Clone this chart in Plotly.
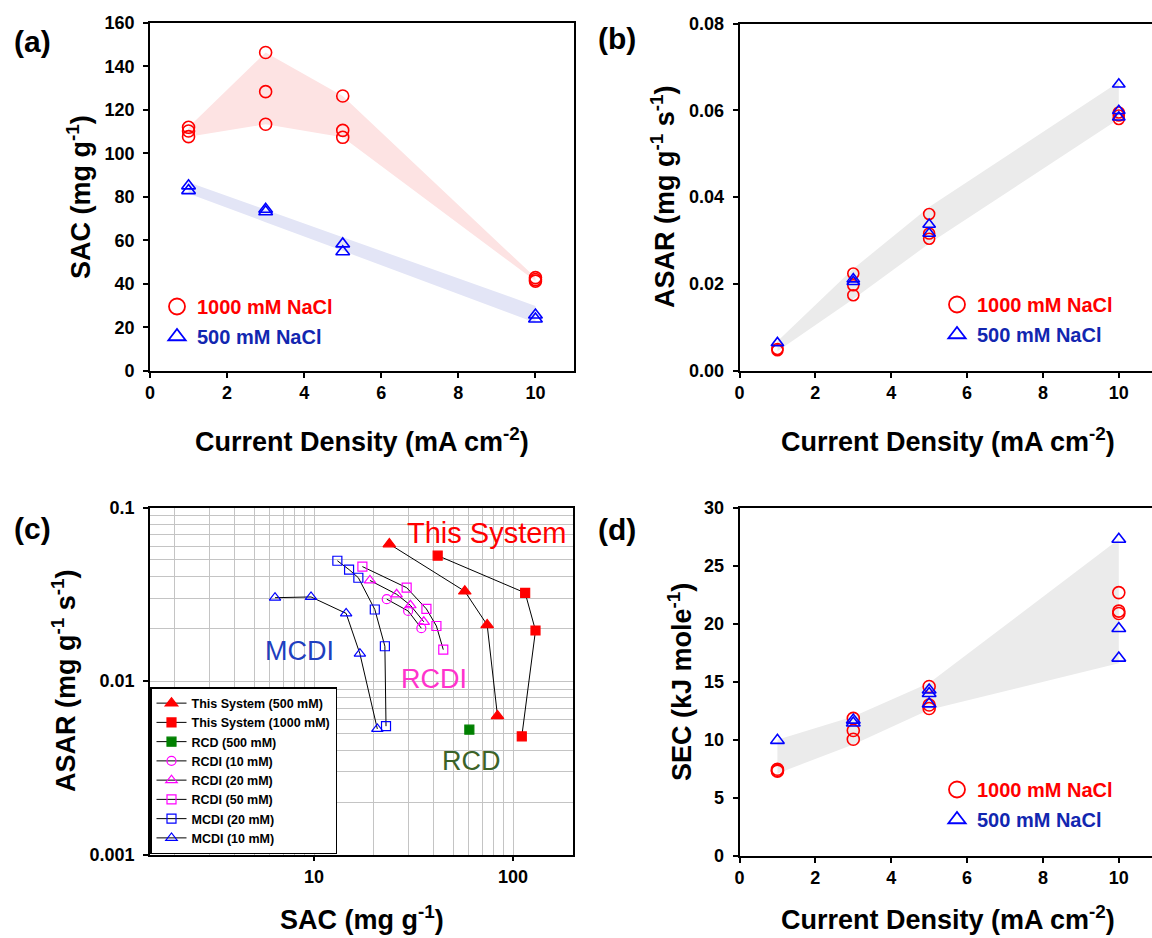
import plotly.graph_objects as go

W, H = 1152, 938
FONT = "Arial, Liberation Sans, Helvetica, sans-serif"

# ---------------- data ----------------
cd_levels = [1, 3, 5, 10]

# (a) SAC
a_x_1000 = [1, 1, 1, 3, 3, 3, 5, 5, 5, 10, 10, 10]
a_sac_1000 = [111.9, 110.2, 107.6, 146.3, 128.3, 113.3, 126.3, 110.5, 107.3, 42.8, 41.9, 41.2]
a_x_500 = [1, 1, 3, 3, 5, 5, 10, 10]
a_sac_500 = [85.0, 82.8, 74.2, 73.1, 58.3, 54.7, 25.6, 23.8]
a_band_1000_hi = [111.9, 146.3, 126.3, 42.8]
a_band_1000_lo = [107.6, 113.3, 107.3, 41.2]
a_band_500_hi = [86.6, 74.0, 61.4, 29.8]
a_band_500_lo = [81.5, 68.3, 55.1, 22.1]

# (b) ASAR
b_x_1000 = [1, 1, 3, 3, 3, 5, 5, 5, 10, 10, 10]
b_asar_1000 = [0.0050, 0.0047, 0.0224, 0.0197, 0.0174, 0.0361, 0.0316, 0.0304, 0.0595, 0.0588, 0.0580]
b_x_500 = [1, 3, 3, 5, 5, 10, 10, 10]
b_asar_500 = [0.0064, 0.0211, 0.0205, 0.0337, 0.0316, 0.0660, 0.0599, 0.0584]
b_band_hi = [0.0068, 0.0235, 0.0377, 0.0665]
b_band_lo = [0.0045, 0.0165, 0.0293, 0.0580]

# (c) Ragone-type plot
ts500_sac = [23.9, 57.2, 74.1, 83.5]
ts500_asar = [0.0618, 0.0330, 0.0211, 0.0063]
ts1000_sac = [41.8, 115.0, 129.6, 110.6]
ts1000_asar = [0.0530, 0.0323, 0.0196, 0.0048]
rcd500_sac = [60.3]
rcd500_asar = [0.00525]
rcdi10_sac = [23.2, 29.7, 34.6]
rcdi10_asar = [0.0297, 0.0254, 0.0202]
rcdi20_sac = [19.1, 26.0, 30.5, 35.6]
rcdi20_asar = [0.0381, 0.0317, 0.0274, 0.0220]
rcdi50_sac = [17.5, 29.2, 36.7, 41.2, 44.6]
rcdi50_asar = [0.0458, 0.0346, 0.0261, 0.0208, 0.0152]
mcdi20_sac = [13.1, 15.0, 16.7, 20.2, 22.7, 23.0]
mcdi20_asar = [0.0495, 0.0440, 0.0395, 0.0259, 0.0159, 0.0055]
mcdi10_sac = [6.37, 9.66, 14.5, 17.0, 20.8]
mcdi10_asar = [0.0303, 0.0306, 0.0246, 0.0144, 0.0053]

# (d) SEC
d_x_1000 = [1, 1, 1, 3, 3, 3, 5, 5, 5, 10, 10, 10]
d_sec_1000 = [7.46, 7.35, 7.30, 11.85, 10.8, 10.05, 14.6, 13.0, 12.7, 22.7, 21.1, 20.9]
d_x_500 = [1, 3, 3, 5, 5, 5, 10, 10, 10]
d_sec_500 = [9.95, 11.7, 11.45, 14.3, 14.0, 13.1, 27.3, 19.6, 17.05]
d_band_hi = [10.0, 12.0, 14.9, 27.3]
d_band_lo = [7.1, 9.6, 12.6, 16.6]

RED = "#ff0000"
BLUE = "#0000ff"
MAG = "#ff00ff"
GREEN = "#008000"


def px(x):
    return x / W


def py(y):
    return 1 - y / H


fig = go.Figure()


def band(xa, ya, hi, lo, color):
    fig.add_trace(go.Scatter(
        x=list(cd_levels) + list(cd_levels)[::-1],
        y=list(hi) + list(lo)[::-1],
        fill="toself", fillcolor=color, mode="none",
        hoverinfo="skip", showlegend=False, xaxis=xa, yaxis=ya))


# ---------------- panel (a) ----------------
band("x", "y", a_band_1000_hi, a_band_1000_lo, "#fde3e3")
band("x", "y", a_band_500_hi, a_band_500_lo, "#e3e5f6")
fig.add_trace(go.Scatter(x=a_x_1000, y=a_sac_1000, mode="markers", showlegend=False,
                         marker=dict(symbol="circle-open", size=12, color=RED, line=dict(width=1.6)),
                         xaxis="x", yaxis="y"))
fig.add_trace(go.Scatter(x=a_x_500, y=a_sac_500, mode="markers", showlegend=False,
                         marker=dict(symbol="triangle-up-open", size=12, color=BLUE, line=dict(width=1.6)),
                         xaxis="x", yaxis="y"))

# ---------------- panel (b) ----------------
band("x2", "y2", b_band_hi, b_band_lo, "#ebebeb")
fig.add_trace(go.Scatter(x=b_x_1000, y=b_asar_1000, mode="markers", showlegend=False,
                         marker=dict(symbol="circle-open", size=11, color=RED, line=dict(width=1.6)),
                         xaxis="x2", yaxis="y2"))
fig.add_trace(go.Scatter(x=b_x_500, y=b_asar_500, mode="markers", showlegend=False,
                         marker=dict(symbol="triangle-up-open", size=11, color=BLUE, line=dict(width=1.6)),
                         xaxis="x2", yaxis="y2"))

# ---------------- panel (d) ----------------
band("x4", "y4", d_band_hi, d_band_lo, "#ebebeb")
fig.add_trace(go.Scatter(x=d_x_1000, y=d_sec_1000, mode="markers", showlegend=False,
                         marker=dict(symbol="circle-open", size=12, color=RED, line=dict(width=1.6)),
                         xaxis="x4", yaxis="y4"))
fig.add_trace(go.Scatter(x=d_x_500, y=d_sec_500, mode="markers", showlegend=False,
                         marker=dict(symbol="triangle-up-open", size=12, color=BLUE, line=dict(width=1.6)),
                         xaxis="x4", yaxis="y4"))

# legends for (a), (b), (d)
for lg, xa, ya in (("legend", "x", "y"), ("legend2", "x2", "y2"), ("legend4", "x4", "y4")):
    fig.add_trace(go.Scatter(x=[None], y=[None], mode="markers", legend=lg, legendgroup=lg + "c",
                             name="<b><span style='color:#ff0000'>1000 mM NaCl</span></b>",
                             marker=dict(symbol="circle-open", size=16, color=RED, line=dict(width=1.8)),
                             xaxis=xa, yaxis=ya))
    fig.add_trace(go.Scatter(x=[None], y=[None], mode="markers", legend=lg, legendgroup=lg + "t",
                             name="<b><span style='color:#1226b0'>500 mM NaCl</span></b>",
                             marker=dict(symbol="triangle-up-open", size=15, color=BLUE, line=dict(width=1.8)),
                             xaxis=xa, yaxis=ya))

# ---------------- panel (c) ----------------
c_series = [
    ("This System (500 mM)", ts500_sac, ts500_asar, "triangle-up", RED, 11),
    ("This System (1000 mM)", ts1000_sac, ts1000_asar, "square", RED, 9),
    ("RCD (500 mM)", rcd500_sac, rcd500_asar, "square", GREEN, 9),
    ("RCDI (10 mM)", rcdi10_sac, rcdi10_asar, "circle-open", MAG, 9),
    ("RCDI (20 mM)", rcdi20_sac, rcdi20_asar, "triangle-up-open", MAG, 10),
    ("RCDI (50 mM)", rcdi50_sac, rcdi50_asar, "square-open", MAG, 9),
    ("MCDI (20 mM)", mcdi20_sac, mcdi20_asar, "square-open", BLUE, 9),
    ("MCDI (10 mM)", mcdi10_sac, mcdi10_asar, "triangle-up-open", BLUE, 10),
]
for name, xs, ys, sym, col, sz in c_series:
    fig.add_trace(go.Scatter(
        x=xs, y=ys, mode="lines+markers", name="<b>" + name + "</b>", legend="legend3",
        line=dict(color="black", width=1),
        marker=dict(symbol=sym, size=sz, color=col, line=dict(color=col, width=1.2)),
        xaxis="x3", yaxis="y3"))

# ---------------- axes ----------------
tickfont = dict(family=FONT, size=18, color="black", weight="bold")
common = dict(showline=True, linecolor="black", linewidth=1.8, ticks="outside", ticklen=5,
              tickwidth=1.5, tickcolor="black", tickfont=tickfont, showgrid=False,
              zeroline=False, fixedrange=True, automargin=False)
ycommon = dict(common, ticklabelstandoff=5)
grid = dict(showgrid=True, gridcolor="#c4c4c4", gridwidth=1)

fig.update_layout(
    width=W, height=H, margin=dict(l=0, r=0, t=0, b=0, pad=0, autoexpand=False),
    paper_bgcolor="white", plot_bgcolor="rgba(0,0,0,0)",
    font=dict(family=FONT, color="black"),
    xaxis=dict(domain=[px(150), px(574)], range=[0, 11], tickvals=[0, 2, 4, 6, 8, 10],
               mirror=True, anchor="y", **common),
    yaxis=dict(domain=[py(370.7), py(22.7)], range=[0, 160], dtick=20,
               mirror=True, anchor="x", **ycommon),
    xaxis2=dict(domain=[px(739.5), 1], range=[0, (1152 - 739.5) / 37.93],
                tickvals=[0, 2, 4, 6, 8, 10], mirror=True, anchor="y2", **common),
    yaxis2=dict(domain=[py(370.7), py(23.5)], range=[0, 0.08], dtick=0.02, tickformat=".2f",
                mirror=False, anchor="x2", **ycommon),
    xaxis3=dict(domain=[px(150), px(573)], type="log", range=[0.1761, 2.301],
                tickvals=[10, 100], ticktext=["10", "100"], mirror=True, anchor="y3",
                **{**common, **grid},
                minor=dict(tickvals=[2, 3, 4, 5, 6, 7, 8, 9, 20, 30, 40, 50, 60, 70, 80, 90],
                           ticks="", **grid)),
    yaxis3=dict(domain=[py(854.5), py(507.8)], type="log", range=[-3, -1],
                tickvals=[0.001, 0.01, 0.1], ticktext=["0.001", "0.01", "0.1"], mirror=True,
                anchor="x3",
                **{**ycommon, **grid},
                minor=dict(tickvals=[0.002, 0.003, 0.004, 0.005, 0.006, 0.007, 0.008, 0.009,
                                     0.02, 0.03, 0.04, 0.05, 0.06, 0.07, 0.08, 0.09],
                           ticks="", **grid)),
    xaxis4=dict(domain=[px(739.5), 1], range=[0, (1152 - 739.5) / 37.93],
                tickvals=[0, 2, 4, 6, 8, 10], mirror=True, anchor="y4", **common),
    yaxis4=dict(domain=[py(855.7), py(508)], range=[0, 30], dtick=5,
                mirror=False, anchor="x4", **ycommon),
)

legfont = dict(family=FONT, size=20)
for lg, lx, ly in (("legend", 157, 287), ("legend2", 937, 285), ("legend4", 937, 770)):
    fig.update_layout({lg: dict(x=px(lx), y=py(ly), xanchor="left", yanchor="top",
                                bgcolor="rgba(0,0,0,0)", borderwidth=0, font=legfont,
                                tracegroupgap=1, itemclick=False, itemdoubleclick=False)})
fig.update_layout(legend3=dict(x=px(150), y=py(854), xanchor="left", yanchor="bottom",
                               bgcolor="white", bordercolor="black", borderwidth=1.5,
                               font=dict(family=FONT, size=12.5, color="black"),
                               tracegroupgap=0, traceorder="normal",
                               itemclick=False, itemdoubleclick=False))

# ---------------- text annotations ----------------
ann = []


def add_text(text, x, y, size, color="black", angle=0, bold=True):
    t = "<b>" + text + "</b>" if bold else text
    ann.append(dict(text=t, x=px(x), y=py(y), xref="paper", yref="paper", showarrow=False,
                    xanchor="center", yanchor="middle", textangle=angle,
                    font=dict(family=FONT, size=size, color=color)))


# panel labels
add_text("(a)", 32, 41, 30)
add_text("(b)", 617, 39, 30)
add_text("(c)", 32, 528, 30)
add_text("(d)", 617, 529, 30)

# axis titles
TS = 27
add_text("Current Density (mA cm<sup>-2</sup>)", 362, 440, TS)
add_text("SAC (mg g<sup>-1</sup>)", 79, 197, TS, angle=-90)
add_text("Current Density (mA cm<sup>-2</sup>)", 948, 440, TS)
add_text("ASAR (mg g<sup>-1</sup> s<sup>-1</sup>)", 663, 197, TS, angle=-90)
add_text("SAC (mg g<sup>-1</sup>)", 362, 918, TS)
add_text("ASAR (mg g<sup>-1</sup> s<sup>-1</sup>)", 64, 681, TS, angle=-90)
add_text("Current Density (mA cm<sup>-2</sup>)", 948, 918, TS)
add_text("SEC (kJ mole<sup>-1</sup>)", 680, 682, TS, angle=-90)

# labels inside panel (c)
add_text("This System", 487, 533, 29, color="#ff0000", bold=False)
add_text("MCDI", 299, 651, 27, color="#1f3fbf", bold=False)
add_text("RCDI", 434, 679, 27, color="#ff33cc", bold=False)
add_text("RCD", 471, 761, 27, color="#3b6228", bold=False)

fig.update_layout(annotations=ann)

fig.write_html("out.html", config={"displayModeBar": False},
               post_script="document.body.style.margin='0px';")
